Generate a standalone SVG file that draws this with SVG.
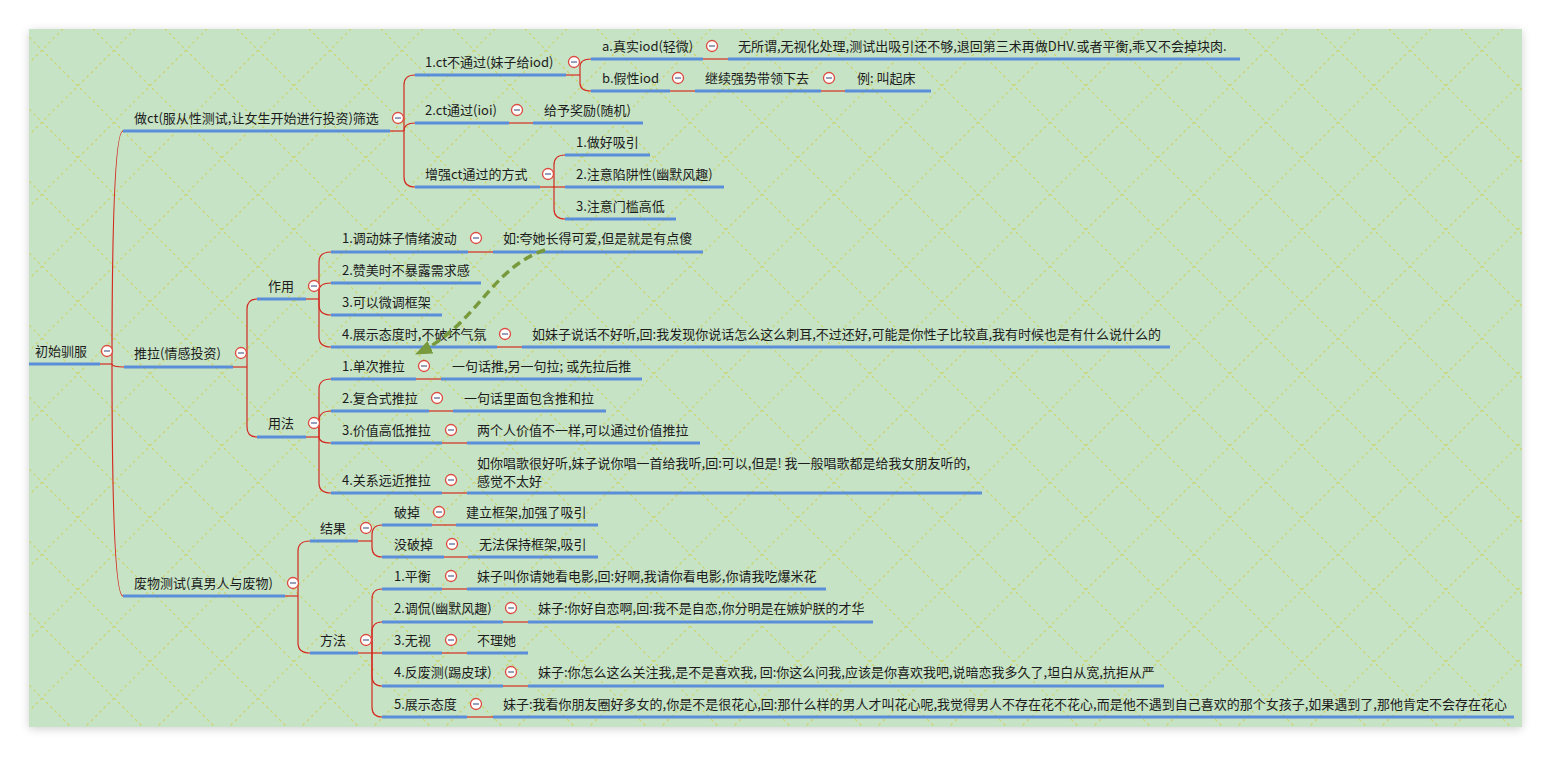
<svg xmlns="http://www.w3.org/2000/svg" xmlns:xlink="http://www.w3.org/1999/xlink" width="1551" height="757" viewBox="0 0 1551 757">
<style>
.t{font-family:"Noto Sans CJK SC","Microsoft YaHei","Noto Sans",sans-serif;font-size:13px;fill:#1c1c1c}
.u{stroke:#5b8ed8;stroke-width:3;stroke-linecap:butt}
.c{stroke:#d42a20;stroke-width:1.2;fill:none}
.icb{fill:#ffffff;stroke:#dc4a3f;stroke-width:1.3}
.icm{stroke:#7f88a8;stroke-width:1.6}
</style>
<defs>
<pattern id="bg" patternUnits="userSpaceOnUse" x="42" y="50" width="72" height="72">
<rect width="72" height="72" fill="#c6e3c6"/>
<path d="M0,0 L72,72 M72,0 L0,72" stroke="#cdd46a" stroke-width="1.2" stroke-dasharray="2.5 3.5" fill="none"/>
</pattern>
<filter id="sh" x="-5%" y="-5%" width="110%" height="110%"><feGaussianBlur stdDeviation="5"/></filter>
<g id="ic"><circle class="icb" cx="0" cy="0" r="5.5"/><line class="icm" x1="-3" y1="0" x2="3" y2="0"/></g>
<marker id="ah" markerUnits="userSpaceOnUse" markerWidth="18" markerHeight="14" refX="16" refY="7" orient="auto"><path d="M0,0 L17,7 L0,14 z" fill="#789a3c"/></marker>
</defs>
<rect width="1551" height="757" fill="#ffffff"/>
<rect x="29" y="31" width="1493" height="698" fill="#000" opacity="0.18" filter="url(#sh)"/>
<rect x="29" y="29" width="1493" height="698" fill="url(#bg)"/>

<g id="connectors">
<path class="c" d="M100,364 L112,364"/>
<path class="c" d="M112,364 C112,250 114,131 123,131"/>
<path class="c" d="M112,364 Q112,367 124,367"/>
<path class="c" d="M112,364 C112,480 114,596 123,596"/>
<path class="c" d="M390,131 L404,131"/>
<path class="c" d="M404,131 L404,85 Q404,75 415,75"/>
<path class="c" d="M404,131 Q404,123 415,123"/>
<path class="c" d="M404,131 L404,177 Q404,187 415,187"/>
<path class="c" d="M566,75 L580,75"/>
<path class="c" d="M580,75 L580,67 Q580,59 591,59"/>
<path class="c" d="M580,75 L580,83 Q580,91 591,91"/>
<path class="c" d="M703,59 L728,59"/>
<path class="c" d="M670,91 L695,91"/>
<path class="c" d="M821,91 L845,91"/>
<path class="c" d="M509,123 L533,123"/>
<path class="c" d="M540,187 L554,187"/>
<path class="c" d="M554,187 L554,165 Q554,155 565,155"/>
<path class="c" d="M554,187 L565,187"/>
<path class="c" d="M554,187 L554,209 Q554,219 565,219"/>
<path class="c" d="M233,367 L247,367"/>
<path class="c" d="M247,367 L247,309 Q247,299 257,299"/>
<path class="c" d="M247,367 L247,427 Q247,437 257,437"/>
<path class="c" d="M306,299 L319,299"/>
<path class="c" d="M319,299 L319,262 Q319,252 331,252"/>
<path class="c" d="M319,299 L319,291 Q319,283 331,283"/>
<path class="c" d="M319,299 L319,305 Q319,315 331,315"/>
<path class="c" d="M319,299 L319,337 Q319,347 331,347"/>
<path class="c" d="M468,252 L493,252"/>
<path class="c" d="M497,347 L522,347"/>
<path class="c" d="M306,437 L319,437"/>
<path class="c" d="M319,437 L319,389 Q319,379 331,379"/>
<path class="c" d="M319,437 L319,421 Q319,411 331,411"/>
<path class="c" d="M319,437 Q319,443 331,443"/>
<path class="c" d="M319,437 L319,483 Q319,493 331,493"/>
<path class="c" d="M416,379 L441,379"/>
<path class="c" d="M429,411 L453,411"/>
<path class="c" d="M442,443 L467,443"/>
<path class="c" d="M442,493 L467,493"/>
<path class="c" d="M285,596 L298,596"/>
<path class="c" d="M298,596 L298,551 Q298,541 310,541"/>
<path class="c" d="M298,596 L298,643 Q298,653 310,653"/>
<path class="c" d="M358,541 L372,541"/>
<path class="c" d="M372,541 L372,535 Q372,525 382,525"/>
<path class="c" d="M372,541 L372,547 Q372,557 382,557"/>
<path class="c" d="M432,525 L456,525"/>
<path class="c" d="M444,557 L468,557"/>
<path class="c" d="M358,653 L372,653"/>
<path class="c" d="M372,653 L372,599 Q372,589 382,589"/>
<path class="c" d="M372,653 L372,632 Q372,622 382,622"/>
<path class="c" d="M372,653 L382,653"/>
<path class="c" d="M372,653 L372,676 Q372,686 382,686"/>
<path class="c" d="M372,653 L372,707 Q372,717 382,717"/>
<path class="c" d="M442,589 L467,589"/>
<path class="c" d="M503,622 L528,622"/>
<path class="c" d="M442,653 L467,653"/>
<path class="c" d="M503,686 L528,686"/>
<path class="c" d="M467,717 L493,717"/>
</g>

<g id="n-root"><line class="u" x1="29" y1="364" x2="100" y2="364"/><text class="t" x="35" y="356">初始驯服</text><use href="#ic" x="107" y="351"/></g>

<g id="n-A"><line class="u" x1="123" y1="131" x2="390" y2="131"/><text class="t" x="134" y="123">做ct(服从性测试,让女生开始进行投资)筛选</text><use href="#ic" x="398" y="118"/></g>
<g id="n-A1"><line class="u" x1="415" y1="75" x2="566" y2="75"/><text class="t" x="425" y="67">1.ct不通过(妹子给iod)</text><use href="#ic" x="574" y="62"/></g>
<g id="n-A1a"><line class="u" x1="591" y1="59" x2="703" y2="59"/><text class="t" x="602" y="51">a.真实iod(轻微)</text><use href="#ic" x="712" y="46"/></g>
<g id="n-A1a1"><line class="u" x1="728" y1="59" x2="1240" y2="59"/><text class="t" x="738" y="51">无所谓,无视化处理,测试出吸引还不够,退回第三术再做DHV.或者平衡,乖又不会掉块肉.</text></g>
<g id="n-A1b"><line class="u" x1="591" y1="91" x2="670" y2="91"/><text class="t" x="602" y="83">b.假性iod</text><use href="#ic" x="678" y="78"/></g>
<g id="n-A1b1"><line class="u" x1="695" y1="91" x2="821" y2="91"/><text class="t" x="705" y="83">继续强势带领下去</text><use href="#ic" x="829" y="78"/></g>
<g id="n-A1b1a"><line class="u" x1="845" y1="91" x2="931" y2="91"/><text class="t" x="857" y="83">例: 叫起床</text></g>
<g id="n-A2"><line class="u" x1="415" y1="123" x2="509" y2="123"/><text class="t" x="425" y="115">2.ct通过(ioi)</text><use href="#ic" x="517" y="110"/></g>
<g id="n-A2a"><line class="u" x1="533" y1="123" x2="643" y2="123"/><text class="t" x="544" y="115">给予奖励(随机)</text></g>
<g id="n-A3"><line class="u" x1="415" y1="187" x2="540" y2="187"/><text class="t" x="425" y="179">增强ct通过的方式</text><use href="#ic" x="548" y="174"/></g>
<g id="n-A3a"><line class="u" x1="565" y1="155" x2="650" y2="155"/><text class="t" x="576" y="147">1.做好吸引</text></g>
<g id="n-A3b"><line class="u" x1="565" y1="187" x2="724" y2="187"/><text class="t" x="576" y="179">2.注意陷阱性(幽默风趣)</text></g>
<g id="n-A3c"><line class="u" x1="565" y1="219" x2="676" y2="219"/><text class="t" x="576" y="211">3.注意门槛高低</text></g>

<g id="n-B"><line class="u" x1="124" y1="367" x2="233" y2="367"/><text class="t" x="134" y="358">推拉(情感投资)</text><use href="#ic" x="241" y="353"/></g>
<g id="n-B1"><line class="u" x1="257" y1="299" x2="306" y2="299"/><text class="t" x="268" y="291">作用</text><use href="#ic" x="314" y="286"/></g>
<g id="n-B1a"><line class="u" x1="331" y1="252" x2="468" y2="252"/><text class="t" x="342" y="243">1.调动妹子情绪波动</text><use href="#ic" x="476" y="238"/></g>
<g id="n-B1a1"><line class="u" x1="493" y1="252" x2="703" y2="252"/><text class="t" x="503" y="243">如:夸她长得可爱,但是就是有点傻</text></g>
<g id="n-B1b"><line class="u" x1="331" y1="283" x2="481" y2="283"/><text class="t" x="342" y="275">2.赞美时不暴露需求感</text></g>
<g id="n-B1c"><line class="u" x1="331" y1="315" x2="442" y2="315"/><text class="t" x="342" y="307">3.可以微调框架</text></g>
<g id="n-B1d"><line class="u" x1="331" y1="347" x2="497" y2="347"/><text class="t" x="342" y="339">4.展示态度时,不破坏气氛</text><use href="#ic" x="505" y="334"/></g>
<g id="n-B1d1"><line class="u" x1="522" y1="347" x2="1170" y2="347"/><text class="t" x="532" y="339">如妹子说话不好听,回:我发现你说话怎么这么刺耳,不过还好,可能是你性子比较直,我有时候也是有什么说什么的</text></g>
<g id="n-B2"><line class="u" x1="257" y1="437" x2="306" y2="437"/><text class="t" x="268" y="428">用法</text><use href="#ic" x="314" y="423"/></g>
<g id="n-B2a"><line class="u" x1="331" y1="379" x2="416" y2="379"/><text class="t" x="342" y="371">1.单次推拉</text><use href="#ic" x="424" y="366"/></g>
<g id="n-B2a1"><line class="u" x1="441" y1="379" x2="642" y2="379"/><text class="t" x="452" y="371">一句话推,另一句拉; 或先拉后推</text></g>
<g id="n-B2b"><line class="u" x1="331" y1="411" x2="429" y2="411"/><text class="t" x="342" y="403">2.复合式推拉</text><use href="#ic" x="437" y="398"/></g>
<g id="n-B2b1"><line class="u" x1="453" y1="411" x2="606" y2="411"/><text class="t" x="464" y="403">一句话里面包含推和拉</text></g>
<g id="n-B2c"><line class="u" x1="331" y1="443" x2="442" y2="443"/><text class="t" x="342" y="435">3.价值高低推拉</text><use href="#ic" x="451" y="430"/></g>
<g id="n-B2c1"><line class="u" x1="467" y1="443" x2="700" y2="443"/><text class="t" x="477" y="435">两个人价值不一样,可以通过价值推拉</text></g>
<g id="n-B2d"><line class="u" x1="331" y1="493" x2="442" y2="493"/><text class="t" x="342" y="485">4.关系远近推拉</text><use href="#ic" x="451" y="480"/></g>
<g id="n-B2d1"><line class="u" x1="467" y1="493" x2="982" y2="493"/><text class="t" x="477" y="468">如你唱歌很好听,妹子说你唱一首给我听,回:可以,但是! 我一般唱歌都是给我女朋友听的,</text><text class="t" x="477" y="486">感觉不太好</text></g>

<g id="n-C"><line class="u" x1="123" y1="596" x2="285" y2="596"/><text class="t" x="134" y="588">废物测试(真男人与废物)</text><use href="#ic" x="293" y="583"/></g>
<g id="n-C1"><line class="u" x1="310" y1="541" x2="358" y2="541"/><text class="t" x="320" y="533">结果</text><use href="#ic" x="366" y="528"/></g>
<g id="n-C1a"><line class="u" x1="382" y1="525" x2="432" y2="525"/><text class="t" x="394" y="517">破掉</text><use href="#ic" x="439" y="512"/></g>
<g id="n-C1a1"><line class="u" x1="456" y1="525" x2="598" y2="525"/><text class="t" x="466" y="517">建立框架,加强了吸引</text></g>
<g id="n-C1b"><line class="u" x1="382" y1="557" x2="444" y2="557"/><text class="t" x="394" y="549">没破掉</text><use href="#ic" x="452" y="544"/></g>
<g id="n-C1b1"><line class="u" x1="468" y1="557" x2="598" y2="557"/><text class="t" x="479" y="549">无法保持框架,吸引</text></g>
<g id="n-C2"><line class="u" x1="310" y1="653" x2="358" y2="653"/><text class="t" x="320" y="645">方法</text><use href="#ic" x="366" y="640"/></g>
<g id="n-C2a"><line class="u" x1="382" y1="589" x2="442" y2="589"/><text class="t" x="394" y="581">1.平衡</text><use href="#ic" x="451" y="576"/></g>
<g id="n-C2a1"><line class="u" x1="467" y1="589" x2="826" y2="589"/><text class="t" x="477" y="581">妹子叫你请她看电影,回:好啊,我请你看电影,你请我吃爆米花</text></g>
<g id="n-C2b"><line class="u" x1="382" y1="622" x2="503" y2="622"/><text class="t" x="394" y="613">2.调侃(幽默风趣)</text><use href="#ic" x="511" y="608"/></g>
<g id="n-C2b1"><line class="u" x1="528" y1="622" x2="873" y2="622"/><text class="t" x="538" y="613">妹子:你好自恋啊,回:我不是自恋,你分明是在嫉妒朕的才华</text></g>
<g id="n-C2c"><line class="u" x1="382" y1="653" x2="442" y2="653"/><text class="t" x="394" y="645">3.无视</text><use href="#ic" x="451" y="640"/></g>
<g id="n-C2c1"><line class="u" x1="467" y1="653" x2="528" y2="653"/><text class="t" x="477" y="645">不理她</text></g>
<g id="n-C2d"><line class="u" x1="382" y1="686" x2="503" y2="686"/><text class="t" x="394" y="677">4.反废测(踢皮球)</text><use href="#ic" x="511" y="672"/></g>
<g id="n-C2d1"><line class="u" x1="528" y1="686" x2="1164" y2="686"/><text class="t" x="538" y="677">妹子:你怎么这么关注我,是不是喜欢我, 回:你这么问我,应该是你喜欢我吧,说暗恋我多久了,坦白从宽,抗拒从严</text></g>
<g id="n-C2e"><line class="u" x1="382" y1="717" x2="467" y2="717"/><text class="t" x="394" y="709">5.展示态度</text><use href="#ic" x="476" y="704"/></g>
<g id="n-C2e1"><line class="u" x1="493" y1="717" x2="1514" y2="717"/><text class="t" x="503" y="709">妹子:我看你朋友圈好多女的,你是不是很花心,回:那什么样的男人才叫花心呢,我觉得男人不存在花不花心,而是他不遇到自己喜欢的那个女孩子,如果遇到了,那他肯定不会存在花心</text></g>

<g id="relation">
<path d="M545,250 C490,268 478,325 416,354" fill="none" stroke="#789a3c" stroke-width="3.5" stroke-dasharray="9 5" marker-end="url(#ah)"/>
</g>
</svg>
